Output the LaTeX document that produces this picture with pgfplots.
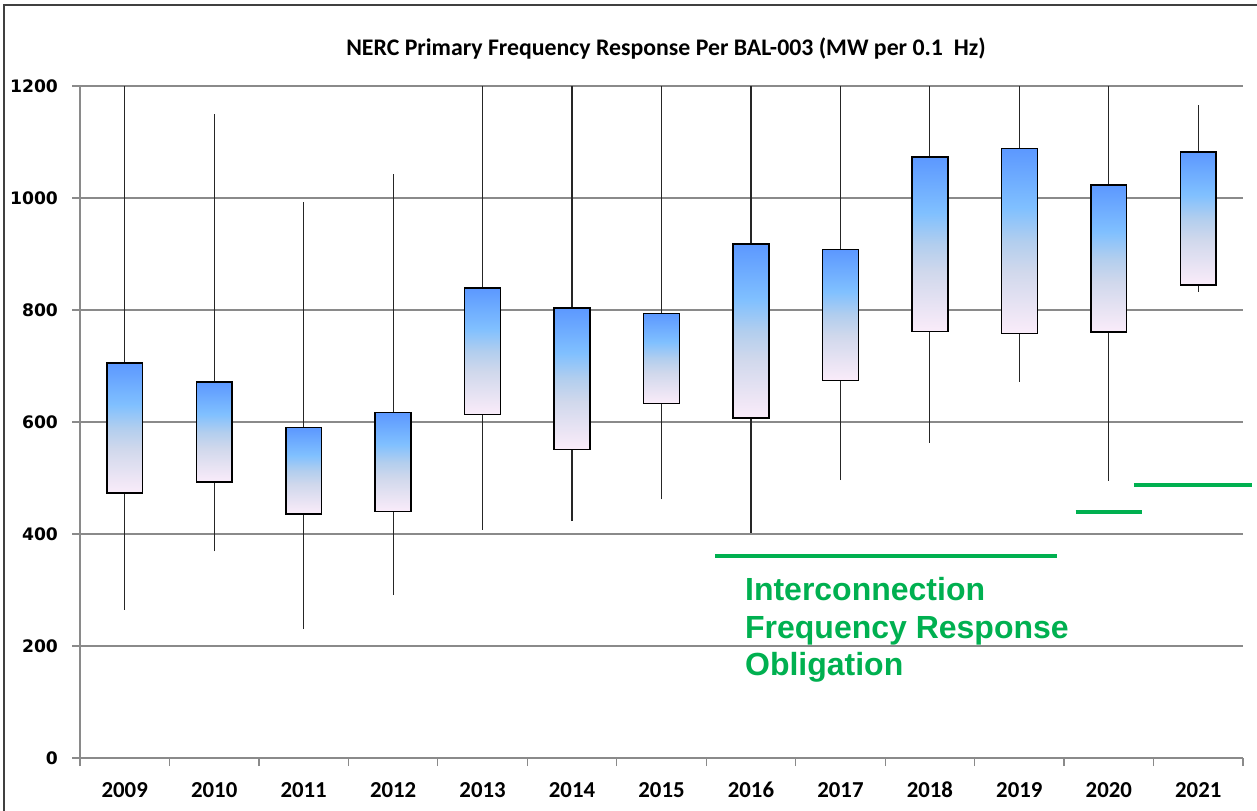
\documentclass[border=0pt]{standalone}
\usepackage{fontspec}
\setmainfont{Carlito}
\newfontfamily\arialf{Liberation Sans}
\newfontfamily\dejavuf{DejaVu Sans}
\usepackage{pgfplots}
\pgfplotsset{compat=1.18}
\definecolor{topblue}{RGB}{92,152,255}
\definecolor{lblue}{RGB}{128,192,255}
\definecolor{midc}{RGB}{178,206,238}
\definecolor{grayc}{RGB}{208,216,236}
\definecolor{pinkc}{RGB}{238,230,245}
\definecolor{pinkb}{RGB}{250,236,250}
\definecolor{oblig}{RGB}{0,176,80}
\definecolor{gridc}{RGB}{138,138,138}
\pgfdeclareverticalshading{boxshade}{100bp}{color(0bp)=(pinkb); color(25bp)=(pinkb); color(30bp)=(pinkc); color(42bp)=(grayc); color(50bp)=(midc); color(59bp)=(lblue); color(75bp)=(topblue); color(100bp)=(topblue)}
\pgfplotsset{box/.style={draw=black, line width=0.75pt, line join=miter, shading=boxshade, no markers}}
\begin{document}
\begin{tikzpicture}
\useasboundingbox (0,0) rectangle (628.5pt,405pt);
\draw[line width=0.8pt, black!75] (2pt,-5pt) -- (2pt,402.5pt) -- (640pt,402.5pt);
\node[anchor=base, font=\bfseries\fontsize{11.9}{12}\selectfont] at (333pt,377pt) {NERC Primary Frequency Response Per BAL-003 (MW per 0.1 \ Hz)};
\begin{axis}[
  at={(40pt,26pt)}, anchor=south west,
  scale only axis, width=581.5pt, height=336pt,
  xmin=-0.5, xmax=12.5, ymin=0, ymax=1200,
  clip=false,
  axis lines*=left,
  axis line style={draw=gridc, line width=0.6pt, -},
  ytick={0,200,...,1200},
  ymajorgrids, grid style={draw=gridc, line width=0.6pt},
  xtick={0,...,12},
  xticklabels={2009,2010,2011,2012,2013,2014,2015,2016,2017,2018,2019,2020,2021},
  minor xtick={-0.5,0.5,...,12.5},
  major x tick style={draw=none},
  minor x tick style={draw=gridc, line width=0.6pt},
  y tick style={draw=gridc, line width=0.6pt},
  tick align=outside,
  major tick length=4pt, minor tick length=4pt,
  /pgf/number format/1000 sep={},
  /pgf/number format/assume math mode=true,
  yticklabel style={font=\dejavuf\bfseries\fontsize{8.6}{9}\selectfont, anchor=east, xshift=-3.5pt},
  xticklabel style={font=\bfseries\fontsize{11.4}{12}\selectfont, anchor=north, yshift=-4.5pt},
  unbounded coords=jump,
]
% lower whiskers
\addplot[black!85, line width=0.6pt, no markers] coordinates {
 (0,265) (0,473) (0,nan)
 (1,369) (1,493) (1,nan)
 (2,230) (2,436) (2,nan)
 (3,291) (3,440) (3,nan)
 (4,408) (4,613) (4,nan)
 (5,423) (5,551) (5,nan)
 (6,462) (6,633) (6,nan)
 (7,402) (7,607) (7,nan)
 (8,496) (8,674) (8,nan)
 (9,563) (9,762) (9,nan)
 (10,672) (10,758) (10,nan)
 (11,495) (11,761) (11,nan)
 (12,833) (12,845)};
% upper whiskers
\addplot[black!85, line width=0.6pt, no markers] coordinates {
 (0,705) (0,1200) (0,nan)
 (1,671) (1,1150) (1,nan)
 (2,590) (2,993) (2,nan)
 (3,617) (3,1043) (3,nan)
 (4,839) (4,1200) (4,nan)
 (5,804) (5,1200) (5,nan)
 (6,794) (6,1200) (6,nan)
 (7,918) (7,1200) (7,nan)
 (8,908) (8,1200) (8,nan)
 (9,1073) (9,1200) (9,nan)
 (10,1088) (10,1200) (10,nan)
 (11,1023) (11,1200) (11,nan)
 (12,1082) (12,1166)};
% boxes: lower quartile to upper quartile, 0.4 wide
\addplot[box] coordinates {(-0.2,473) (0.2,473) (0.2,705) (-0.2,705) (-0.2,473) (0.2,473)};
\addplot[box] coordinates {(0.8,493) (1.2,493) (1.2,671) (0.8,671) (0.8,493) (1.2,493)};
\addplot[box] coordinates {(1.8,436) (2.2,436) (2.2,590) (1.8,590) (1.8,436) (2.2,436)};
\addplot[box] coordinates {(2.8,440) (3.2,440) (3.2,617) (2.8,617) (2.8,440) (3.2,440)};
\addplot[box] coordinates {(3.8,613) (4.2,613) (4.2,839) (3.8,839) (3.8,613) (4.2,613)};
\addplot[box] coordinates {(4.8,551) (5.2,551) (5.2,804) (4.8,804) (4.8,551) (5.2,551)};
\addplot[box] coordinates {(5.8,633) (6.2,633) (6.2,794) (5.8,794) (5.8,633) (6.2,633)};
\addplot[box] coordinates {(6.8,607) (7.2,607) (7.2,918) (6.8,918) (6.8,607) (7.2,607)};
\addplot[box] coordinates {(7.8,674) (8.2,674) (8.2,908) (7.8,908) (7.8,674) (8.2,674)};
\addplot[box] coordinates {(8.8,762) (9.2,762) (9.2,1073) (8.8,1073) (8.8,762) (9.2,762)};
\addplot[box] coordinates {(9.8,758) (10.2,758) (10.2,1088) (9.8,1088) (9.8,758) (10.2,758)};
\addplot[box] coordinates {(10.8,761) (11.2,761) (11.2,1023) (10.8,1023) (10.8,761) (11.2,761)};
\addplot[box] coordinates {(11.8,845) (12.2,845) (12.2,1082) (11.8,1082) (11.8,845) (12.2,845)};
% obligation lines
\addplot[oblig, line width=2pt, no markers] coordinates {(6.6,360) (10.42,360)};
\addplot[oblig, line width=2pt, no markers] coordinates {(10.63,440) (11.37,440)};
\addplot[oblig, line width=2pt, no markers] coordinates {(11.28,487) (12.6,487)};
\node[anchor=base west, inner sep=0pt, text=oblig, font=\arialf\bfseries\fontsize{16}{18}\selectfont] at (axis cs:6.93,282) {Interconnection};
\node[anchor=base west, inner sep=0pt, text=oblig, font=\arialf\bfseries\fontsize{16}{18}\selectfont] at (axis cs:6.93,214) {Frequency Response};
\node[anchor=base west, inner sep=0pt, text=oblig, font=\arialf\bfseries\fontsize{16}{18}\selectfont] at (axis cs:6.93,148) {Obligation};
\end{axis}
\end{tikzpicture}
\end{document}
